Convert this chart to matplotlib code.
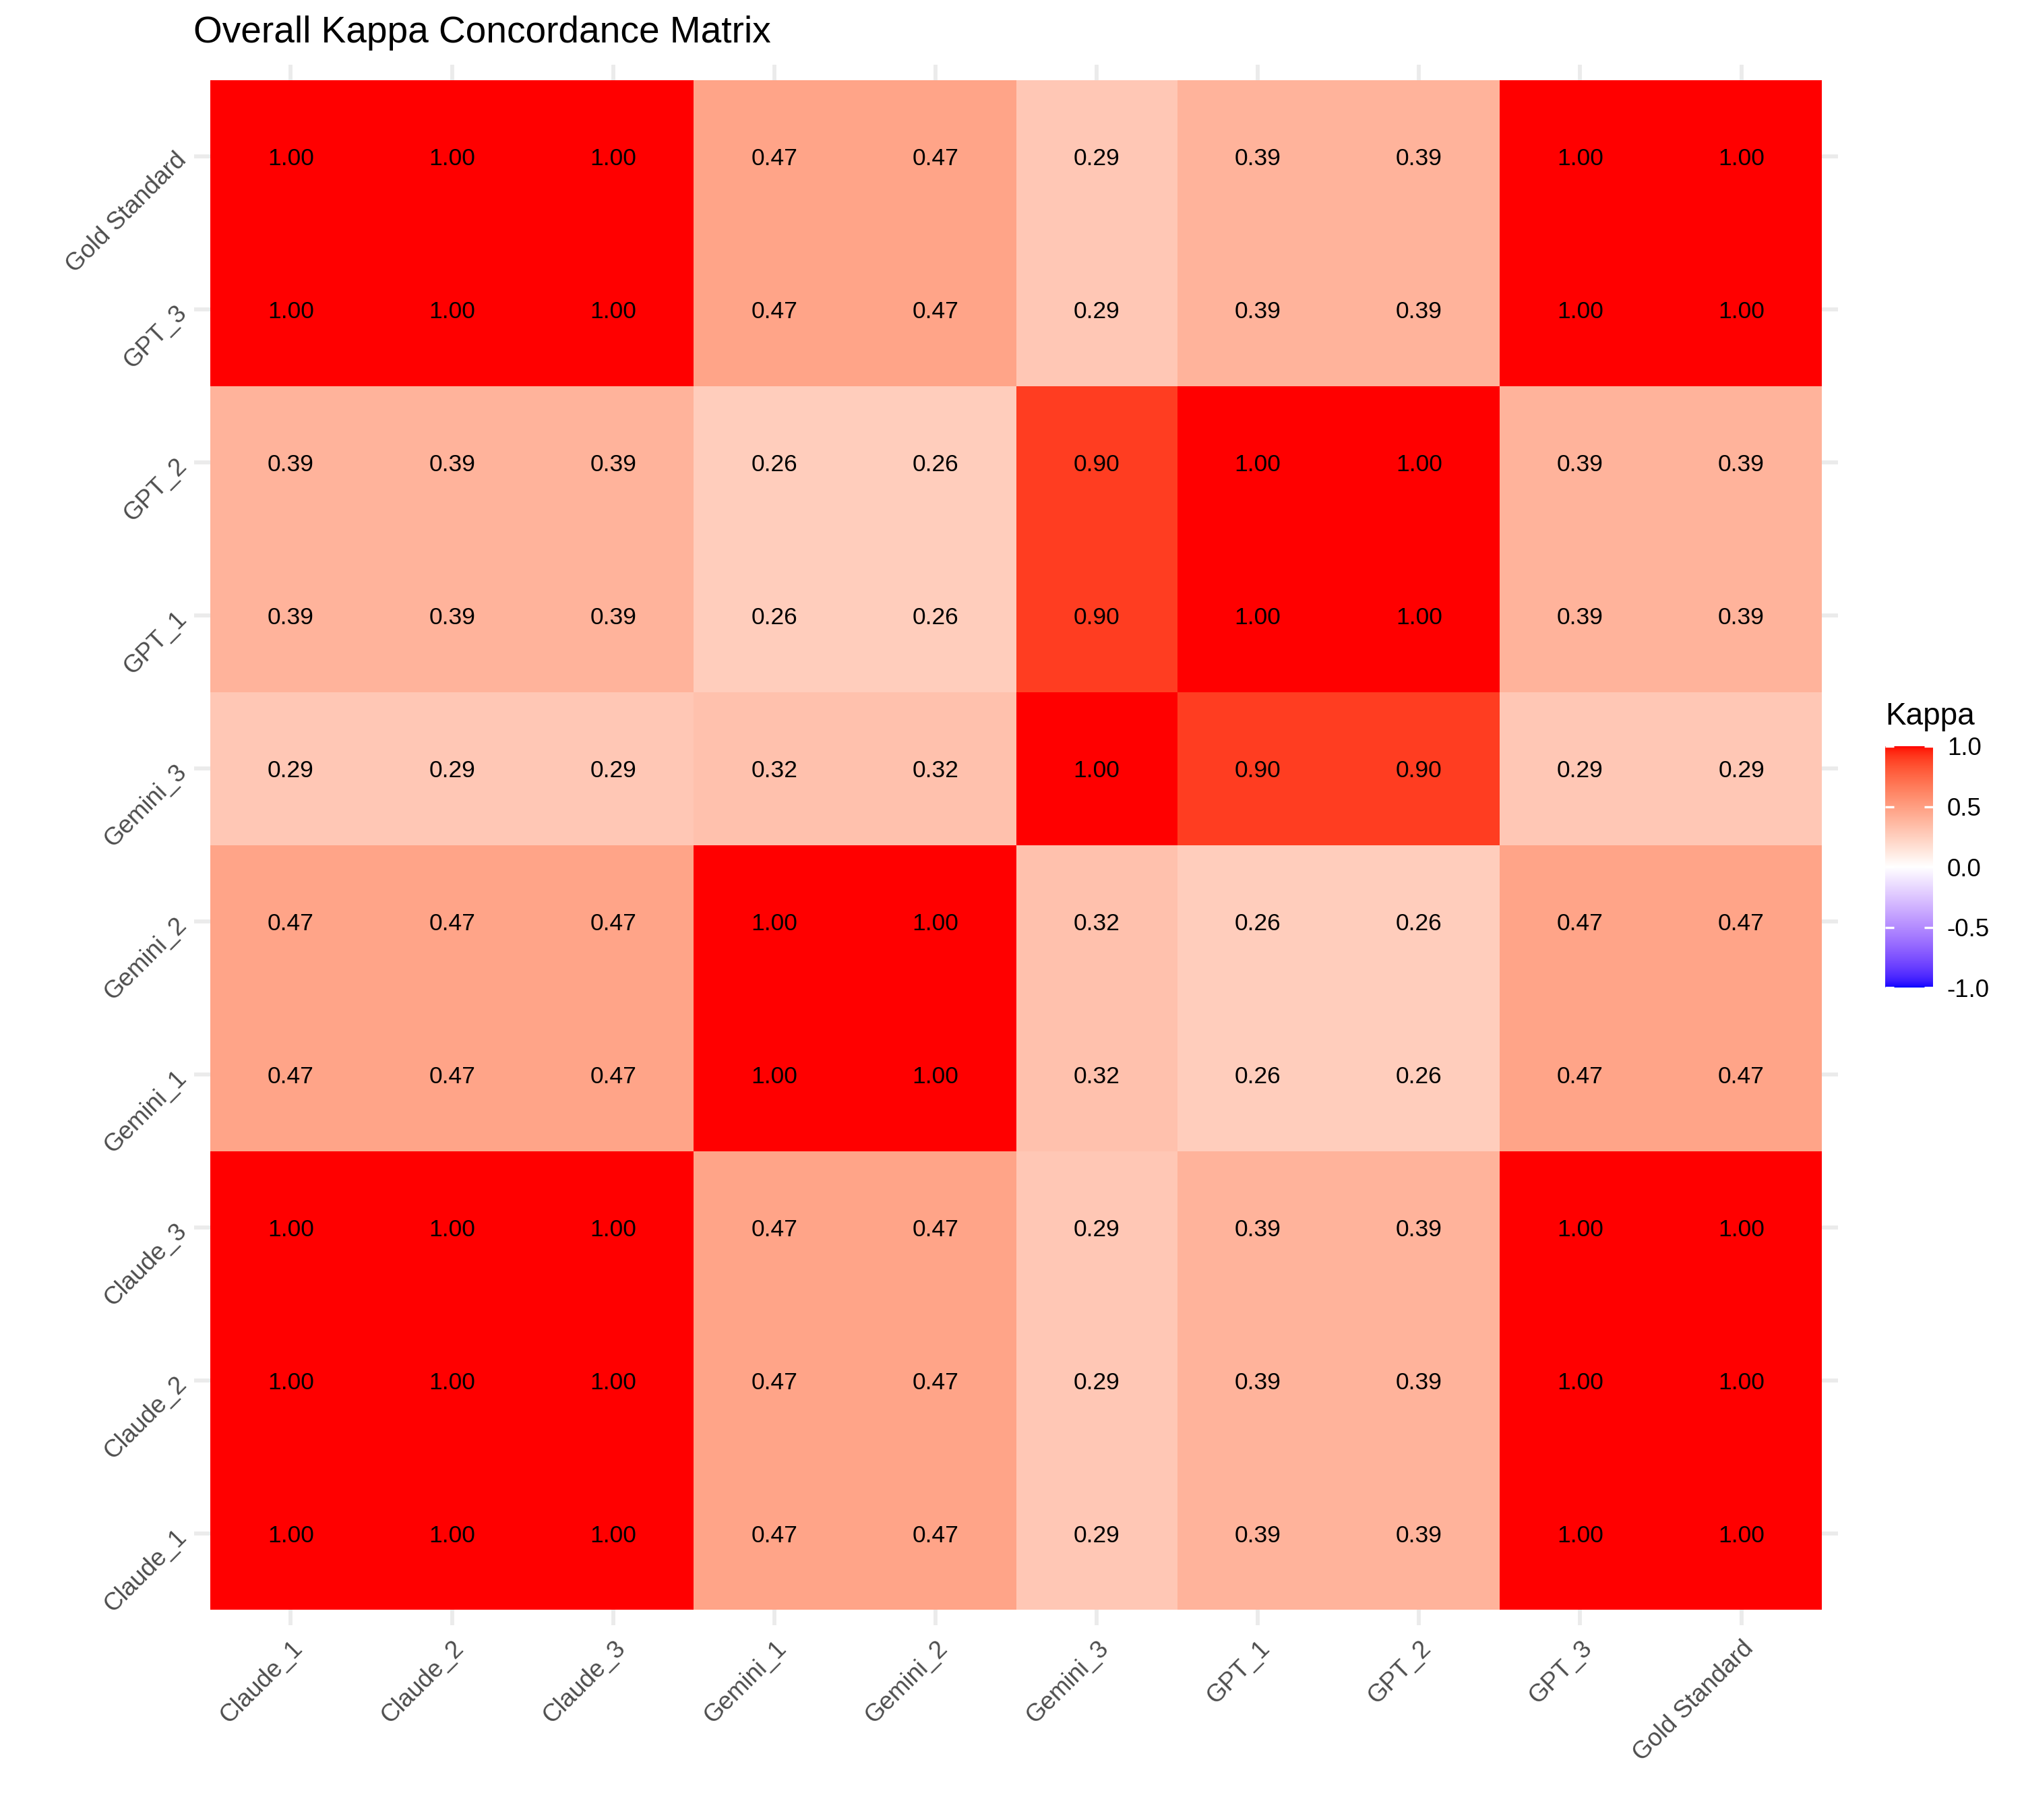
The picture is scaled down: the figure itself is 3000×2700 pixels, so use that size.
import numpy as np
import matplotlib
matplotlib.use('Agg')
import matplotlib.pyplot as plt
from matplotlib.colors import ListedColormap

plt.rcParams['font.family'] = ['Liberation Sans', 'DejaVu Sans']

raters = ['Claude_1', 'Claude_2', 'Claude_3', 'Gemini_1', 'Gemini_2',
          'Gemini_3', 'GPT_1', 'GPT_2', 'GPT_3', 'Gold Standard']

# rows follow raters (bottom to top), columns follow raters (left to right)
kappa = np.array([
    [1.00, 1.00, 1.00, 0.47, 0.47, 0.29, 0.39, 0.39, 1.00, 1.00],
    [1.00, 1.00, 1.00, 0.47, 0.47, 0.29, 0.39, 0.39, 1.00, 1.00],
    [1.00, 1.00, 1.00, 0.47, 0.47, 0.29, 0.39, 0.39, 1.00, 1.00],
    [0.47, 0.47, 0.47, 1.00, 1.00, 0.32, 0.26, 0.26, 0.47, 0.47],
    [0.47, 0.47, 0.47, 1.00, 1.00, 0.32, 0.26, 0.26, 0.47, 0.47],
    [0.29, 0.29, 0.29, 0.32, 0.32, 1.00, 0.90, 0.90, 0.29, 0.29],
    [0.39, 0.39, 0.39, 0.26, 0.26, 0.90, 1.00, 1.00, 0.39, 0.39],
    [0.39, 0.39, 0.39, 0.26, 0.26, 0.90, 1.00, 1.00, 0.39, 0.39],
    [1.00, 1.00, 1.00, 0.47, 0.47, 0.29, 0.39, 0.39, 1.00, 1.00],
    [1.00, 1.00, 1.00, 0.47, 0.47, 0.29, 0.39, 0.39, 1.00, 1.00],
])

# --- blue / white / red gradient interpolated in Lab, like ggplot's gradient2
M = np.array([[0.4124564, 0.3575761, 0.1804375],
              [0.2126729, 0.7151522, 0.0721750],
              [0.0193339, 0.1191920, 0.9503041]])
WHITE = np.array([0.95047, 1.0, 1.08883])

def rgb2lab(c):
    c = np.asarray(c, float)
    lin = np.where(c <= 0.04045, c / 12.92, ((c + 0.055) / 1.055) ** 2.4)
    xyz = M @ lin / WHITE
    f = np.where(xyz > 216 / 24389, np.cbrt(xyz), (24389 / 27 * xyz + 16) / 116)
    return np.array([116 * f[1] - 16, 500 * (f[0] - f[1]), 200 * (f[1] - f[2])])

def lab2rgb(lab):
    L, a, b = lab
    fy = (L + 16) / 116
    fx = fy + a / 500
    fz = fy - b / 200
    def finv(t):
        return np.where(t ** 3 > 216 / 24389, t ** 3, (116 * t - 16) / (24389 / 27))
    xyz = np.array([finv(fx), finv(fy), finv(fz)]) * WHITE
    lin = np.linalg.solve(M, xyz)
    lin = np.clip(lin, 0, 1)
    c = np.where(lin <= 0.0031308, 12.92 * lin, 1.055 * lin ** (1 / 2.4) - 0.055)
    return np.clip(c, 0, 1)

lo, mid, hi = rgb2lab([0, 0, 1]), rgb2lab([1, 1, 1]), rgb2lab([1, 0, 0])
cols = []
for t in np.linspace(0, 1, 511):
    if t < 0.5:
        s = t / 0.5
        cols.append(lab2rgb(lo + (mid - lo) * s))
    else:
        s = (t - 0.5) / 0.5
        cols.append(lab2rgb(mid + (hi - mid) * s))
cmap = ListedColormap(cols)

fig = plt.figure(figsize=(10, 9), dpi=300)
ax = fig.add_axes([0.096, 0.107, 0.813, 0.8574])

n = len(raters)
edges = np.arange(n + 1) - 0.5
mesh = ax.pcolormesh(edges, edges, kappa, cmap=cmap, vmin=-1, vmax=1,
                     edgecolors='face', linewidth=0, zorder=2)

for i in range(n):
    for j in range(n):
        ax.text(j, i, f"{kappa[i, j]:.2f}", ha='center', va='center_baseline',
                fontsize=8.5, color='black', zorder=3)

ax.set_xlim(-0.6, n - 0.4)
ax.set_ylim(-0.6, n - 0.4)
ax.set_xticks(range(n))
ax.set_yticks(range(n))
ax.set_xticklabels(raters, rotation=45, ha='right', va='top',
                   rotation_mode='anchor', color='#4D4D4D', fontsize=8.8)
ax.set_yticklabels(raters, rotation=45, ha='right', va='center',
                   rotation_mode='anchor', color='#4D4D4D', fontsize=8.8)
ax.tick_params(length=0, pad=4)
ax.grid(True, color='#EBEBEB', linewidth=1.4, zorder=0)
ax.set_axisbelow(True)
for sp in ax.spines.values():
    sp.set_visible(False)

fig.text(0.0957, 1 - 63 / 2700, 'Overall Kappa Concordance Matrix',
         fontsize=13.2, va='baseline', ha='left')

cax = fig.add_axes([0.9323, 0.4574, 0.0237, 0.1326])
cb = fig.colorbar(mesh, cax=cax, ticks=[-1, -0.5, 0, 0.5, 1])
cb.outline.set_visible(False)
cb.ax.set_yticklabels(['-1.0', '-0.5', '0.0', '0.5', '1.0'], fontsize=8.8)
cax.tick_params(direction='in', left=True, right=True, length=3.2,
                width=0.8, color='white', pad=5)
fig.text(0.9323, 1 - 1075 / 2700, 'Kappa', fontsize=11, va='baseline')

fig.savefig('out.png', dpi=300, facecolor='white')
